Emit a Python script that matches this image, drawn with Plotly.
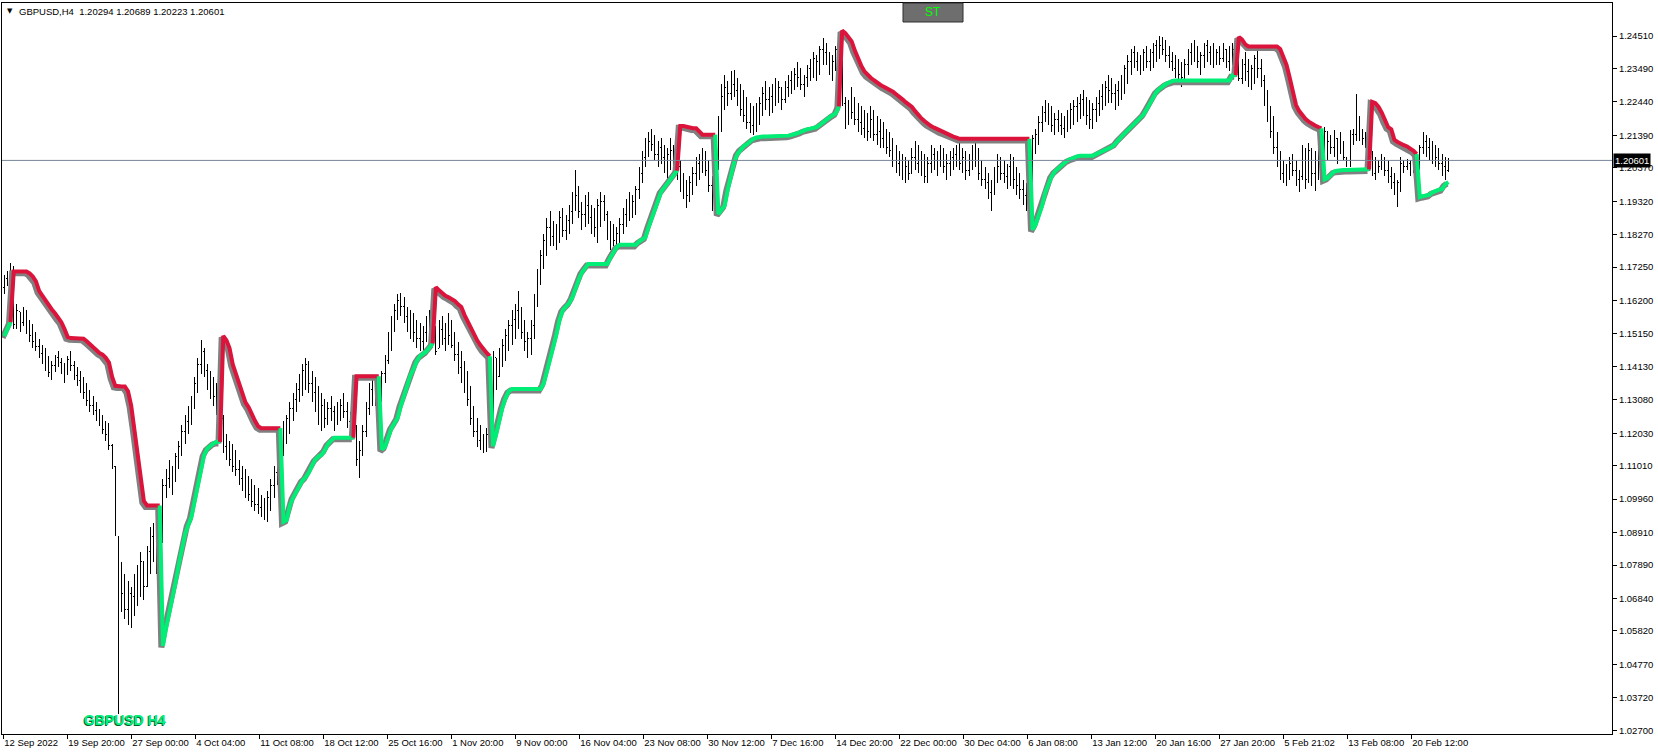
import plotly.graph_objects as go

# ---------------- DATA (prices in pips above 1.0000: value v -> 1 + v/10000) ----------------
highs = [
    1700, 1712, 1738, 1728, 1610, 1585, 1600, 1590, 1560, 1545,
    1520, 1500, 1480, 1470, 1445, 1430, 1450, 1460, 1440, 1425,
    1445, 1460, 1430, 1410, 1400, 1380, 1360, 1340, 1320, 1300,
    1280, 1260, 1240, 1235, 1170, 1100, 880, 800, 760, 740,
    720, 760, 790, 830, 800, 850, 910, 920, 850, 880,
    1060, 1090, 1120, 1100, 1140, 1180, 1230, 1260, 1290, 1320,
    1380, 1440, 1495, 1470, 1420, 1400, 1380, 1360, 1330, 1260,
    1200, 1180, 1170, 1150, 1120, 1100, 1090, 1070, 1060, 1040,
    1030, 1010, 1000, 1020, 1060, 1100, 1140, 1180, 1240, 1260,
    1300, 1330, 1360, 1390, 1420, 1440, 1430, 1400, 1380, 1350,
    1330, 1310, 1300, 1320, 1290, 1300, 1310, 1330, 1300, 1270,
    1260, 1230, 1180, 1230, 1300, 1360, 1375, 1375, 1350, 1400,
    1450, 1520, 1570, 1610, 1640, 1645, 1630, 1600, 1590, 1580,
    1560, 1550, 1540, 1570, 1590, 1560, 1540, 1560, 1570, 1550,
    1580, 1560, 1520, 1490, 1460, 1430, 1400, 1350, 1290, 1250,
    1230, 1200, 1220, 1260, 1460, 1440, 1470, 1500, 1530, 1560,
    1590, 1610, 1650, 1600, 1560, 1520, 1560, 1640, 1720, 1780,
    1830, 1880, 1900, 1870, 1860, 1900, 1910, 1890, 1920, 1960,
    2030, 1980, 1930, 1950, 1960, 1920, 1910, 1940, 1960, 1950,
    1900, 1870, 1860, 1850, 1880, 1910, 1940, 1960, 1950, 1980,
    2040, 2090, 2130, 2150, 2160, 2140, 2120, 2130, 2110, 2100,
    2130, 2110, 2080, 2060, 2020, 2000, 2010, 2040, 2070, 2080,
    2100, 2090, 2060, 2010, 2050, 2200, 2300, 2330, 2310, 2340,
    2345, 2320, 2300, 2280, 2260, 2240, 2230, 2240, 2260, 2290,
    2310, 2290, 2300, 2320, 2310, 2290, 2310, 2330, 2340, 2350,
    2370, 2350, 2330, 2360, 2380, 2400, 2390, 2420, 2446, 2430,
    2400, 2390, 2420, 2440, 2446, 2260, 2250, 2290, 2260, 2240,
    2230, 2220, 2210, 2230, 2220, 2200, 2190, 2180, 2160, 2150,
    2130, 2110, 2090, 2080, 2070, 2060, 2100, 2120, 2110, 2090,
    2080, 2070, 2110, 2100, 2090, 2110, 2100, 2080, 2090, 2100,
    2110, 2120, 2100, 2090, 2080, 2110, 2120, 2100, 2060, 2040,
    2020, 2000, 2040, 2080, 2070, 2060, 2050, 2080, 2070, 2040,
    2020, 2000, 1990, 1990, 2140, 2160, 2200, 2230, 2250, 2240,
    2230, 2210, 2220, 2210, 2200, 2220, 2240, 2250, 2260, 2270,
    2280, 2260, 2250, 2240, 2260, 2280, 2300, 2310, 2330, 2320,
    2300, 2310, 2330, 2360, 2390, 2410, 2420, 2400, 2390, 2410,
    2420, 2410, 2430, 2440, 2450, 2448, 2440, 2420, 2400, 2390,
    2380, 2370, 2380, 2410, 2430, 2440, 2420, 2400, 2430, 2440,
    2420, 2430, 2410, 2420, 2430, 2410, 2420, 2430, 2445, 2440,
    2380, 2400, 2380, 2360, 2390, 2410, 2380, 2330, 2280, 2230,
    2200, 2150, 2090, 2060, 2050, 2070, 2080, 2060, 2030, 2110,
    2100, 2115, 2100, 2090, 2110, 2120, 2165, 2150, 2140, 2155,
    2130, 2150, 2120, 2070, 2155, 2160, 2268, 2200, 2160, 2150,
    2130, 2090, 2070, 2060, 2080, 2070, 2060, 2040, 2020, 2000,
    2070, 2060, 2065, 2060, 2070, 2060, 2110, 2150, 2140, 2130,
    2120, 2110, 2100, 2080, 2070, 2068.9,
]

lows = [
    1640, 1665, 1680, 1530, 1530, 1520, 1540, 1515, 1490, 1470,
    1460, 1440, 1420, 1400, 1380, 1370, 1395, 1410, 1390, 1360,
    1385, 1400, 1370, 1350, 1330, 1310, 1290, 1270, 1260, 1240,
    1225, 1200, 1180, 1150, 1090, 880, 320, 640, 620, 600,
    590, 630, 660, 690, 680, 720, 760, 800, 760, 770,
    860, 1000, 1030, 1010, 1050, 1090, 1130, 1170, 1200, 1230,
    1280, 1330, 1390, 1380, 1340, 1310, 1290, 1260, 1220, 1140,
    1120, 1100, 1080, 1070, 1040, 1020, 1000, 990, 970, 960,
    950, 940, 930, 925, 960, 1000, 1040, 1090, 1130, 1170,
    1200, 1240, 1270, 1300, 1320, 1340, 1330, 1300, 1270, 1230,
    1210, 1220, 1230, 1240, 1210, 1230, 1240, 1250, 1220, 1195,
    1195, 1100, 1062, 1130, 1190, 1260, 1290, 1290, 1260, 1300,
    1360, 1420, 1460, 1520, 1560, 1570, 1550, 1520, 1500, 1490,
    1470, 1460, 1465, 1490, 1510, 1480, 1450, 1470, 1480, 1460,
    1480, 1470, 1430, 1390, 1360, 1330, 1290, 1230, 1190, 1160,
    1150, 1140, 1145, 1170, 1200, 1340, 1380, 1410, 1430, 1460,
    1480, 1500, 1530, 1500, 1460, 1440, 1450, 1500, 1600, 1670,
    1720, 1760, 1790, 1790, 1780, 1800, 1820, 1810, 1830, 1860,
    1900, 1880, 1840, 1850, 1860, 1830, 1820, 1800, 1850, 1870,
    1810, 1780, 1790, 1780, 1800, 1830, 1850, 1870, 1880, 1890,
    1940, 1990, 2040, 2070, 2090, 2060, 2040, 2050, 2020, 2000,
    2030, 2020, 2000, 1960, 1940, 1910, 1930, 1950, 1980, 2000,
    2020, 2010, 1960, 1900, 1910, 2030, 2150, 2220, 2230, 2250,
    2260, 2230, 2200, 2180, 2160, 2145, 2140, 2150, 2170, 2200,
    2220, 2200, 2210, 2230, 2240, 2220, 2240, 2260, 2270, 2280,
    2290, 2280, 2260, 2290, 2310, 2320, 2310, 2330, 2360, 2360,
    2330, 2310, 2340, 2360, 2230, 2160, 2170, 2190, 2170, 2150,
    2140, 2130, 2120, 2130, 2120, 2110, 2100, 2100, 2080, 2070,
    2040, 2020, 2010, 2000, 1990, 2000, 2020, 2030, 2020, 2010,
    1990, 1990, 2020, 2030, 2010, 2040, 2020, 2000, 2010, 2030,
    2040, 2030, 2020, 2000, 2010, 2030, 2040, 2000, 1980, 1970,
    1940, 1900, 1950, 1990, 2000, 1990, 1970, 1980, 1970, 1950,
    1940, 1920, 1900, 1845, 1950, 2080, 2110, 2150, 2180, 2170,
    2150, 2140, 2150, 2140, 2130, 2150, 2160, 2170, 2180, 2190,
    2200, 2170, 2160, 2160, 2180, 2200, 2220, 2230, 2240, 2240,
    2220, 2230, 2250, 2270, 2300, 2330, 2350, 2340, 2330, 2340,
    2350, 2340, 2350, 2370, 2380, 2390, 2370, 2350, 2340, 2320,
    2300, 2290, 2300, 2330, 2360, 2370, 2350, 2330, 2350, 2370,
    2360, 2350, 2360, 2360, 2370, 2350, 2340, 2360, 2370, 2310,
    2300, 2310, 2290, 2280, 2300, 2320, 2290, 2230, 2180, 2130,
    2080, 2040, 2000, 1990, 1980, 2000, 2010, 1980, 1960, 2000,
    1970, 1990, 1980, 1965, 2000, 2020, 2030, 2060, 2080, 2070,
    2050, 2080, 2060, 2040, 2040, 2110, 2120, 2120, 2110, 2100,
    2070, 2010, 2000, 2020, 2030, 2010, 1990, 1970, 1950, 1915,
    1960, 2020, 2030, 2010, 2020, 2000, 2030, 2080, 2070, 2060,
    2050, 2040, 2030, 2010, 2000, 2022.3,
]

opens = [
    1660, 1690, 1705, 1700, 1545, 1585, 1550, 1575, 1530, 1510,
    1490, 1475, 1455, 1430, 1420, 1395, 1415, 1440, 1425, 1400,
    1410, 1435, 1415, 1385, 1370, 1345, 1330, 1305, 1290, 1275,
    1255, 1240, 1215, 1200, 1165, 1100, 880, 720, 700, 650,
    700, 690, 740, 700, 800, 720, 830, 880, 820, 800,
    860, 1040, 1060, 1080, 1090, 1130, 1160, 1210, 1240, 1270,
    1300, 1360, 1420, 1460, 1400, 1370, 1350, 1320, 1300, 1250,
    1160, 1150, 1120, 1100, 1090, 1060, 1050, 1020, 1010, 990,
    980, 970, 960, 945, 1000, 1040, 1080, 1120, 1150, 1230,
    1250, 1280, 1310, 1340, 1370, 1400, 1420, 1360, 1330, 1300,
    1260, 1290, 1250, 1280, 1270, 1240, 1280, 1290, 1270, 1240,
    1210, 1200, 1120, 1150, 1210, 1280, 1340, 1320, 1350, 1330,
    1390, 1430, 1500, 1550, 1590, 1620, 1600, 1570, 1550, 1530,
    1520, 1500, 1490, 1520, 1560, 1530, 1500, 1470, 1530, 1500,
    1540, 1510, 1480, 1450, 1410, 1380, 1350, 1310, 1250, 1210,
    1180, 1170, 1160, 1200, 1240, 1440, 1380, 1450, 1480, 1510,
    1540, 1560, 1590, 1560, 1520, 1490, 1500, 1540, 1620, 1700,
    1760, 1810, 1850, 1820, 1810, 1840, 1880, 1840, 1870, 1900,
    1940, 1950, 1900, 1890, 1920, 1880, 1860, 1850, 1920, 1930,
    1890, 1830, 1820, 1810, 1830, 1860, 1890, 1920, 1900, 1930,
    1970, 2020, 2070, 2100, 2120, 2110, 2080, 2100, 2070, 2050,
    2080, 2090, 2060, 2040, 1990, 1960, 1950, 1990, 2020, 2050,
    2060, 2040, 2030, 1980, 1950, 2030, 2180, 2260, 2290, 2270,
    2300, 2280, 2250, 2220, 2200, 2180, 2170, 2190, 2220, 2240,
    2270, 2250, 2260, 2280, 2260, 2290, 2250, 2290, 2310, 2300,
    2330, 2320, 2300, 2320, 2350, 2360, 2380, 2370, 2410, 2400,
    2380, 2350, 2370, 2410, 2420, 2240, 2200, 2230, 2210, 2190,
    2180, 2160, 2180, 2150, 2190, 2140, 2150, 2130, 2120, 2100,
    2090, 2060, 2050, 2040, 2030, 2040, 2020, 2070, 2050, 2040,
    2030, 2010, 2050, 2080, 2060, 2070, 2060, 2040, 2050, 2070,
    2080, 2060, 2050, 2070, 2030, 2060, 2090, 2060, 2020, 2000,
    1990, 1960, 1980, 2030, 2040, 2020, 2010, 2040, 2030, 2000,
    1980, 1970, 1950, 1920, 1950, 2130, 2140, 2180, 2210, 2200,
    2190, 2170, 2190, 2170, 2160, 2180, 2200, 2220, 2230, 2240,
    2250, 2220, 2200, 2190, 2220, 2240, 2260, 2280, 2290, 2280,
    2270, 2280, 2300, 2320, 2350, 2370, 2400, 2370, 2360, 2380,
    2400, 2370, 2400, 2420, 2430, 2420, 2410, 2390, 2370, 2350,
    2340, 2330, 2320, 2360, 2400, 2420, 2390, 2370, 2390, 2420,
    2400, 2390, 2380, 2400, 2380, 2410, 2370, 2400, 2410, 2390,
    2318, 2360, 2340, 2330, 2350, 2380, 2350, 2310, 2250, 2200,
    2150, 2100, 2060, 2020, 2040, 2000, 2050, 2030, 2000, 2010,
    2080, 2000, 2090, 2020, 2060, 2090, 2100, 2150, 2120, 2100,
    2130, 2080, 2110, 2070, 2060, 2140, 2140, 2150, 2140, 2130,
    2110, 2090, 2020, 2050, 2040, 2060, 2030, 2010, 1990, 1970,
    1990, 2050, 2040, 2050, 2030, 2050, 2040, 2100, 2120, 2100,
    2110, 2080, 2070, 2050, 2040, 2029.4,
]

closes = [
    1690, 1705, 1700, 1545, 1590, 1550, 1575, 1530, 1510, 1490,
    1475, 1455, 1430, 1420, 1395, 1415, 1440, 1425, 1400, 1410,
    1435, 1415, 1385, 1370, 1345, 1330, 1305, 1290, 1275, 1255,
    1240, 1215, 1200, 1165, 1100, 900, 720, 700, 650, 700,
    690, 740, 700, 800, 720, 830, 880, 820, 800, 860,
    1040, 1060, 1080, 1090, 1130, 1160, 1210, 1240, 1270, 1300,
    1360, 1420, 1460, 1400, 1370, 1350, 1320, 1300, 1250, 1160,
    1150, 1120, 1100, 1090, 1060, 1050, 1020, 1010, 990, 980,
    970, 960, 945, 1000, 1040, 1080, 1120, 1150, 1230, 1250,
    1280, 1310, 1340, 1370, 1400, 1420, 1360, 1330, 1300, 1260,
    1290, 1250, 1280, 1270, 1240, 1280, 1290, 1270, 1240, 1210,
    1200, 1120, 1150, 1210, 1280, 1340, 1320, 1350, 1330, 1390,
    1430, 1500, 1550, 1590, 1620, 1600, 1570, 1550, 1530, 1520,
    1500, 1490, 1520, 1560, 1530, 1500, 1460, 1530, 1500, 1540,
    1510, 1480, 1450, 1410, 1380, 1350, 1310, 1250, 1210, 1180,
    1170, 1160, 1200, 1240, 1450, 1380, 1450, 1480, 1510, 1540,
    1560, 1590, 1560, 1520, 1490, 1500, 1540, 1620, 1700, 1760,
    1810, 1850, 1820, 1810, 1840, 1880, 1840, 1870, 1900, 1940,
    1950, 1900, 1890, 1920, 1880, 1860, 1850, 1920, 1930, 1890,
    1830, 1820, 1810, 1830, 1860, 1890, 1920, 1900, 1930, 1970,
    2020, 2070, 2100, 2120, 2110, 2080, 2100, 2070, 2050, 2080,
    2090, 2060, 2040, 1990, 1960, 1950, 1990, 2020, 2050, 2060,
    2040, 2030, 1980, 1950, 2030, 2180, 2260, 2290, 2270, 2300,
    2280, 2250, 2220, 2200, 2180, 2170, 2190, 2220, 2240, 2270,
    2250, 2260, 2280, 2260, 2290, 2250, 2290, 2310, 2300, 2330,
    2320, 2300, 2320, 2350, 2360, 2380, 2370, 2410, 2400, 2380,
    2350, 2370, 2410, 2420, 2240, 2200, 2230, 2210, 2190, 2180,
    2160, 2180, 2150, 2190, 2140, 2150, 2130, 2120, 2100, 2090,
    2060, 2050, 2040, 2030, 2040, 2020, 2070, 2050, 2040, 2030,
    2010, 2050, 2080, 2060, 2070, 2060, 2040, 2050, 2070, 2080,
    2060, 2050, 2070, 2030, 2060, 2090, 2060, 2020, 2000, 1990,
    1960, 1980, 2030, 2040, 2020, 2010, 2040, 2030, 2000, 1980,
    1970, 1950, 1920, 1950, 2130, 2140, 2180, 2210, 2200, 2190,
    2170, 2190, 2170, 2160, 2180, 2200, 2220, 2230, 2240, 2250,
    2220, 2200, 2190, 2220, 2240, 2260, 2280, 2290, 2280, 2270,
    2280, 2300, 2320, 2350, 2370, 2400, 2370, 2360, 2380, 2400,
    2370, 2400, 2420, 2430, 2420, 2410, 2390, 2370, 2350, 2340,
    2330, 2320, 2360, 2400, 2420, 2390, 2370, 2390, 2420, 2400,
    2390, 2380, 2400, 2380, 2410, 2370, 2400, 2410, 2390, 2318,
    2360, 2340, 2330, 2350, 2380, 2350, 2310, 2250, 2200, 2150,
    2100, 2060, 2020, 2040, 2000, 2050, 2030, 2000, 2010, 2080,
    2000, 2090, 2020, 2060, 2090, 2100, 2150, 2120, 2100, 2130,
    2080, 2110, 2070, 2060, 2140, 2140, 2150, 2140, 2130, 2110,
    2090, 2020, 2050, 2040, 2060, 2030, 2010, 1990, 1970, 1990,
    2050, 2040, 2050, 2030, 2050, 2040, 2100, 2120, 2100, 2110,
    2080, 2070, 2050, 2040, 2029.4, 2060.1,
]

# SuperTrend level per bar (same pip units) and the bars where the trend flips
st_level = [
    1508, 1528, 1552,
    1711, 1711, 1711, 1711, 1711, 1705, 1695, 1680, 1650, 1635, 1620, 1602, 1592, 1580, 1565, 1552,
    1530, 1505, 1502, 1502, 1502, 1502, 1500, 1492, 1482, 1475, 1465, 1455, 1450, 1440, 1425, 1380,
    1352, 1350, 1350, 1350, 1335, 1290, 1220, 1140, 1060, 990, 976, 976, 976, 976, 976,
    535, 590, 636, 685, 735, 790, 835, 886, 915, 940, 990, 1040, 1100, 1135, 1155, 1165, 1172, 1176, 1176,
    1509, 1495, 1470, 1419, 1390, 1360, 1325, 1300, 1285, 1260, 1242, 1225,
    1219, 1219, 1219, 1219, 1219, 1219, 1219,
    925, 930, 975, 1000, 1019, 1040, 1055, 1065, 1080, 1102, 1120, 1130, 1135, 1150, 1169, 1180,
    1189, 1189, 1189, 1189, 1189, 1189, 1189,
    1382, 1382, 1382, 1382, 1382, 1382, 1382, 1382,
    1152, 1160, 1195, 1219, 1235, 1252, 1290, 1320, 1352, 1385, 1405, 1430, 1445, 1452, 1460, 1472, 1485,
    1662, 1652, 1642, 1635, 1630, 1625, 1618, 1608, 1600, 1575, 1555, 1535, 1510, 1495, 1480, 1465, 1455, 1445,
    1162, 1200, 1250, 1285, 1315, 1335,
    1342, 1342, 1342, 1342, 1342, 1342, 1342, 1342, 1342, 1342,
    1360, 1395, 1435, 1475, 1515, 1560, 1590, 1602, 1612, 1630, 1660, 1685, 1708, 1722,
    1735, 1735, 1735, 1735, 1735, 1735, 1735,
    1755, 1775, 1788,
    1795, 1795, 1795, 1795, 1795, 1795,
    1805, 1812, 1818, 1850, 1878, 1910, 1935, 1962, 1975, 1988, 2005, 2018, 2028,
    2168, 2168, 2165, 2161, 2161, 2161, 2150, 2141, 2141, 2141, 2141, 2141,
    1892, 1905, 1918, 1970, 2010, 2055, 2080, 2095, 2105, 2111, 2120, 2128, 2132,
    2135, 2135, 2135, 2135, 2135, 2135, 2135, 2135, 2135,
    2138, 2140, 2142, 2146, 2150, 2155, 2158, 2160, 2161, 2165, 2172, 2181, 2188, 2195, 2202, 2208, 2230,
    2468, 2460, 2448, 2434, 2405, 2380, 2358, 2340, 2328, 2320, 2312, 2303, 2298, 2292, 2287, 2283,
    2276, 2268, 2261, 2252, 2243, 2236, 2228, 2215, 2202, 2192, 2183, 2175, 2168, 2163, 2158, 2152,
    2148, 2143, 2138, 2135, 2132,
    2128, 2128, 2128, 2128, 2128, 2128, 2128, 2128, 2128, 2128, 2128, 2128,
    2128, 2128, 2128, 2128, 2128, 2128, 2128, 2128, 2128, 2128, 2128,
    1842, 1860, 1890, 1918, 1960, 1990, 2010, 2025, 2035, 2045, 2052, 2060, 2065, 2070, 2073,
    2075, 2075, 2075, 2075, 2075, 2080, 2085, 2088, 2092, 2098, 2103, 2112, 2125, 2135, 2145,
    2155, 2165, 2175, 2185, 2195, 2205, 2222, 2240, 2261, 2275, 2285, 2294, 2300, 2305, 2310,
    2311, 2311, 2311, 2311, 2311, 2311, 2311, 2311, 2311, 2311, 2311, 2311, 2311, 2311, 2311, 2311, 2311, 2311,
    2328, 2328,
    2448, 2440, 2425, 2418, 2418, 2418, 2418, 2418, 2418, 2418, 2418, 2418, 2418,
    2410, 2385, 2360, 2320, 2280, 2234, 2215, 2200, 2190, 2182, 2174, 2170, 2165, 2161,
    2001, 2005, 2015, 2025, 2028, 2030, 2030, 2030, 2030, 2031, 2031, 2031, 2032, 2032, 2032,
    2244, 2240, 2228, 2210, 2185, 2165, 2158, 2125, 2118, 2112, 2108, 2104, 2098, 2090, 2080,
    1945, 1948, 1950, 1952, 1960, 1965, 1968, 1970, 1985, 1992,
]
trend_flip_bars = [3, 50, 69, 88, 111, 119, 136, 154, 213, 225, 264, 324, 389, 416, 431, 446]
first_trend_up = True

time_labels = ["12 Sep 2022", "19 Sep 20:00", "27 Sep 00:00", "4 Oct 04:00", "11 Oct 08:00",
               "18 Oct 12:00", "25 Oct 16:00", "1 Nov 20:00", "9 Nov 00:00", "16 Nov 04:00",
               "23 Nov 08:00", "30 Nov 12:00", "7 Dec 16:00", "14 Dec 20:00", "22 Dec 00:00",
               "30 Dec 04:00", "6 Jan 08:00", "13 Jan 12:00", "20 Jan 16:00", "27 Jan 20:00",
               "5 Feb 21:02", "13 Feb 08:00", "20 Feb 12:00"]
price_ticks = [1.24510, 1.23490, 1.22440, 1.21390, 1.20370, 1.19320, 1.18270, 1.17250, 1.16200,
               1.15150, 1.14130, 1.13080, 1.12030, 1.11010, 1.09960, 1.08910, 1.07890, 1.06840,
               1.05820, 1.04770, 1.03720, 1.02700]
last_price = 1.20601
header_text = "GBPUSD,H4\u00a0\u00a01.20294 1.20689 1.20223 1.20601"
symbol_label = "GBPUSD H4"

# ---------------- LAYOUT GEOMETRY (pixels) ----------------
W, H = 1658, 753
PL, PR, PT, PB = 2, 1612, 3, 734          # plot box
BAR0_PX, BAR_PX = 4.23, 3.174             # first bar position and bar spacing
REF_PRICE, REF_PY, PX_PER_UNIT = 1.24510, 36.0, 3183.0
TICK0_PX, TICK_STEP_PX = 3.2, 64.0


def to_price(v):
    return 1.0 + v / 10000.0


def py_to_price(py):
    return REF_PRICE - (py - REF_PY) / PX_PER_UNIT


def paper_x(px):
    return (px - PL) / (PR - PL)


def paper_y(py):
    return (PB - py) / (PB - PT)


N = len(highs)
xs = list(range(N))
x_range = [(PL - BAR0_PX) / BAR_PX, (PR - BAR0_PX) / BAR_PX]
y_range = [py_to_price(PB), py_to_price(PT)]

fig = go.Figure()

fig.add_trace(go.Ohlc(
    x=xs,
    open=[to_price(v) for v in opens],
    high=[to_price(v) for v in highs],
    low=[to_price(v) for v in lows],
    close=[to_price(v) for v in closes],
    increasing=dict(line=dict(color="black", width=1)),
    decreasing=dict(line=dict(color="black", width=1)),
    tickwidth=0.3, hoverinfo="skip", showlegend=False,
))

# SuperTrend runs
starts = [0] + trend_flip_bars
ends = trend_flip_bars + [N]
runs = []
for k, (s, e) in enumerate(zip(starts, ends)):
    up = first_trend_up if k % 2 == 0 else (not first_trend_up)
    idx = ([s - 1] if s > 0 else []) + list(range(s, e))
    runs.append((up, idx))

SH_DX, SH_DY = -0.5, -0.0005
for up, idx in runs:
    fig.add_trace(go.Scatter(
        x=[i + SH_DX for i in idx], y=[to_price(st_level[i]) + SH_DY for i in idx],
        mode="lines", line=dict(color="#808080", width=6), hoverinfo="skip", showlegend=False))
for up, idx in runs:
    fig.add_trace(go.Scatter(
        x=idx, y=[to_price(st_level[i]) for i in idx],
        mode="lines", line=dict(color="#00EE76" if up else "#DC143C", width=4),
        hoverinfo="skip", showlegend=False))

# current price line
fig.add_shape(type="line", xref="paper", yref="y", x0=0, x1=1, y0=last_price, y1=last_price,
              line=dict(color="#778899", width=1))

tick_pos = [(TICK0_PX + TICK_STEP_PX * k - BAR0_PX) / BAR_PX for k in range(len(time_labels))]

axis_font = dict(family="Liberation Sans, Arial, sans-serif", size=9.5, color="black")
fig.update_layout(
    width=W, height=H, autosize=False,
    margin=dict(l=PL, r=W - PR, t=PT, b=H - PB, pad=0, autoexpand=False),
    paper_bgcolor="white", plot_bgcolor="white",
    showlegend=False, dragmode=False,
    xaxis=dict(range=x_range, showgrid=False, zeroline=False, showline=True, mirror=True,
               linecolor="black", linewidth=1, ticks="outside", ticklen=4, tickcolor="black",
               tickvals=tick_pos, ticktext=time_labels, tickfont=axis_font, tickangle=0,
               ticklabelposition="outside right", rangeslider=dict(visible=False),
               automargin=False, fixedrange=True),
    yaxis=dict(range=y_range, side="right", showgrid=False, zeroline=False, showline=True,
               mirror=True, linecolor="black", linewidth=1, ticks="outside", ticklen=4,
               tickcolor="black", tickvals=price_ticks, tickangle=0,
               ticktext=[f"{v:.5f}" for v in price_ticks], tickfont=axis_font,
               automargin=False, fixedrange=True),
)

# header
fig.add_annotation(xref="paper", yref="paper", x=paper_x(5), y=paper_y(11), text="\u25bc",
                   showarrow=False, xanchor="left", yanchor="middle",
                   font=dict(family="DejaVu Sans", size=7, color="black"))
fig.add_annotation(xref="paper", yref="paper", x=paper_x(17), y=paper_y(11), text=header_text,
                   showarrow=False, xanchor="left", yanchor="middle",
                   font=dict(family="Liberation Sans, Arial", size=9.5, color="black"))

# ST button
fig.add_shape(type="rect", xref="paper", yref="paper",
              x0=paper_x(903), x1=paper_x(963), y0=paper_y(22), y1=paper_y(3),
              fillcolor="#6E6E6E", line=dict(color="#2E2E2E", width=1))
fig.add_annotation(xref="paper", yref="paper", x=paper_x(933), y=paper_y(12.5), text="ST",
                   showarrow=False, xanchor="center", yanchor="middle",
                   font=dict(family="Liberation Sans, Arial", size=12, color="#00FF00"))

# symbol label (shadow + face)
for dx, dy, col in [(-1, -1, "#006030"), (0, 0, "#00F07A")]:
    fig.add_annotation(xref="paper", yref="paper", x=paper_x(82), y=paper_y(720), text=symbol_label,
                       showarrow=False, xanchor="left", yanchor="middle", xshift=dx, yshift=dy,
                       font=dict(family="Liberation Sans, Arial", size=14, color=col, weight="bold"))

# last price tag
fig.add_annotation(xref="paper", yref="y", x=1, y=last_price, text=f"{last_price:.5f}",
                   showarrow=False, xanchor="left", yanchor="middle", xshift=1,
                   bgcolor="black", borderpad=1,
                   font=dict(family="Liberation Sans, Arial", size=9.5, color="white"))

fig.write_html(
    "out.html", config={"displayModeBar": False, "staticPlot": True},
    post_script=("document.body.style.margin='0';document.body.style.overflow='hidden';"
                 "document.querySelectorAll('.ohlclayer path, g.ohlc path')"
                 ".forEach(function(p){p.style.shapeRendering='crispEdges';});"))
